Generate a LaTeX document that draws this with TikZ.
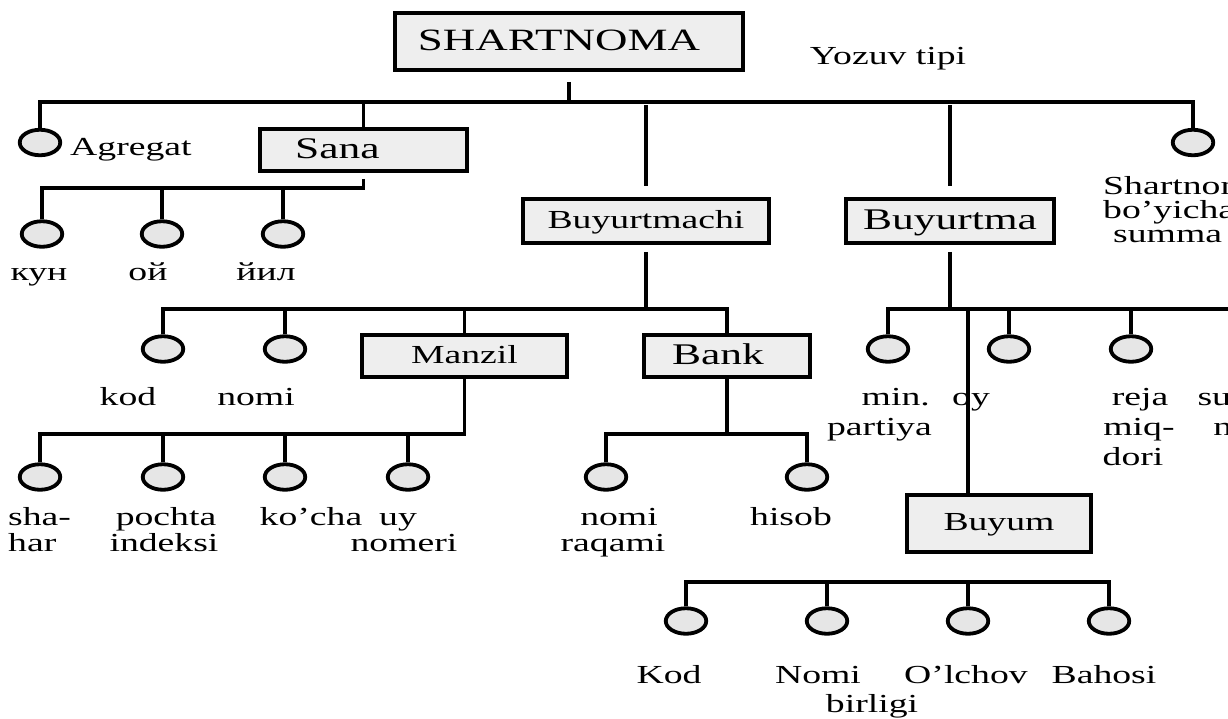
\documentclass[tikz,border=0pt]{standalone}
\usepackage{fontspec}
\setmainfont{Liberation Serif}[FakeStretch=1.45]
\usetikzlibrary{shapes.geometric}
\definecolor{boxgray}{HTML}{EEEEEE}
\definecolor{dotgray}{HTML}{E6E6E6}
\newcommand{\txtsize}[1]{\fontsize{#1pt}{#1pt}\selectfont}
\tikzset{
  wire/.style={line width=3.6pt},
  boxbase/.style={draw, line width=3.8pt, fill=boxgray, inner sep=0pt},
  box26/.style={boxbase, font=\txtsize{26}, text height=17.7pt, text depth=3.1pt},
  box30/.style={boxbase, font=\txtsize{30}, text height=20.4pt, text depth=3.6pt},
  box31/.style={boxbase, font=\txtsize{31}, text height=21.1pt, text depth=3.7pt},
  leaf/.style={ellipse, draw, line width=3.8pt, fill=dotgray,
    minimum width=40.5pt, minimum height=25.5pt, inner sep=0pt},
  lbl/.style={font=\txtsize{26}, inner sep=0pt, anchor=base},
  lblw/.style={lbl, anchor=base west},
  lble/.style={lbl, anchor=base east},
}
\begin{document}
\begin{tikzpicture}[x=1pt, y=-1pt]
\useasboundingbox (0,0) rectangle (1228,718);
\fill[white] (0,0) rectangle (1228,718);
\clip (0,0) rectangle (1228,718);

% ---- boxes (entities) ----
\node[box31, minimum width=348pt, minimum height=57pt] (root) at (569,41.5) {SHARTNOMA\hspace*{20pt}};
\node[box30, minimum width=207pt, minimum height=42pt] (sana) at (363.5,150) {Sana\hspace*{52pt}};
\node[box26, minimum width=246pt, minimum height=44pt] (buyer) at (646,221) {Buyurtmachi};
\node[box30, minimum width=208pt, minimum height=44pt] (order) at (950,221) {Buyurtma};
\node[box26, minimum width=205pt, minimum height=42pt] (manzil) at (464.5,356) {Manzil};
\node[box30, minimum width=166pt, minimum height=42pt] (bank) at (727,356) {Bank\hspace*{18pt}};
\node[box26, minimum width=184pt, minimum height=57pt] (buyum) at (999,523.5) {Buyum};

\node[lbl] (ytipi) at (888,64) {Yozuv tipi};

% ---- attribute circles ----
\node[leaf] (agregat) at (40,142.5) {};
\node[leaf] (shsum) at (1193,142.5) {};
\node[leaf] (kun) at (42,234) {};
\node[leaf] (oy) at (162,234) {};
\node[leaf] (yil) at (283,234) {};
\node[leaf] (kod) at (163,349) {};
\node[leaf] (nomi) at (285,349) {};
\node[leaf] (shahar) at (40,477) {};
\node[leaf] (pochta) at (163,477) {};
\node[leaf] (kocha) at (285,477) {};
\node[leaf] (uy) at (408,477) {};
\node[leaf] (bnomi) at (606,477) {};
\node[leaf] (hisob) at (807,477) {};
\node[leaf] (minp) at (888,349) {};
\node[leaf] (oyc) at (1009,349) {};
\node[leaf] (reja) at (1131,349) {};
\node[leaf] (summ) at (1252,349) {};
\node[leaf] (kodi) at (686,621) {};
\node[leaf] (nomi2) at (827,621) {};
\node[leaf] (olchov) at (968,621) {};
\node[leaf] (bahosi) at (1109,621) {};

% ---- attribute labels ----
\node[lblw] (l-agregat) at (70,155) {Agregat};
\node[lblw] (l-sh1) at (1103,194) {Shartnoma};
\node[lblw] (l-sh2) at (1103,218) {bo’yicha};
\node[lblw] (l-sh3) at (1113,242) {summa};
\node[lbl] (l-kun) at (39,280) {кун};
\node[lbl] (l-oy) at (148,280) {ой};
\node[lbl] (l-yil) at (266,280) {йил};
\node[lbl] (l-kod) at (128,405) {kod};
\node[lbl] (l-nomi) at (256,405) {nomi};
\node[lblw] (l-sha1) at (8,525) {sha-};
\node[lblw] (l-sha2) at (8,551) {har};
\node[lbl] (l-po1) at (166,525) {pochta};
\node[lbl] (l-po2) at (164,551) {indeksi};
\node[lbl] (l-kocha) at (311,525) {ko’cha};
\node[lbl] (l-uy1) at (398,525) {uy};
\node[lbl] (l-uy2) at (404,551) {nomeri};
\node[lbl] (l-bn1) at (619,525) {nomi};
\node[lbl] (l-bn2) at (613,551) {raqami};
\node[lbl] (l-hisob) at (791,525) {hisob};
\node[lble] (l-min1) at (930,405) {min.};
\node[lble] (l-min2) at (932,435) {partiya};
\node[lbl] (l-oyc) at (971,405) {oy};
\node[lbl] (l-reja1) at (1140,405) {reja};
\node[lbl] (l-reja2) at (1139,435) {miq-};
\node[lbl] (l-reja3) at (1133,465) {dori};
\node[lbl] (l-sum1) at (1252,405) {summa};
\node[lbl] (l-sum2) at (1252,435) {narxi};
\node[lbl] (l-kodi) at (669,683) {Kod};
\node[lbl] (l-nomi2) at (818,683) {Nomi};
\node[lbl] (l-birl) at (872,712) {birligi};
\node[lbl] (l-olchov) at (966,683) {O’lchov};
\node[lbl] (l-bahosi) at (1104,683) {Bahosi};

% ---- bus lines ----
\coordinate (mb0) at (0,102);
\coordinate (sb) at (0,188);
\coordinate (bb) at (0,309);
\coordinate (mzb) at (0,434);
\coordinate (yb) at (0,582);
\coordinate (bt) at (968,309);

% top level
\draw[wire, shorten <=10pt] (root.south) -- (root.south |- mb0);
\draw[wire] (agregat.north) -- (agregat.north |- mb0) -- (shsum.north |- mb0) -- (shsum.north);
\draw[wire] (sana.north |- mb0) -- (sana.north);
\draw[wire, shorten <=3pt, shorten >=11pt] (buyer.north |- mb0) -- (buyer.north);
\draw[wire, shorten <=3pt, shorten >=11pt] (order.north |- mb0) -- (order.north);

% Sana
\draw[wire, shorten <=6pt] (sana.south) -- (sana.south |- sb) -- (kun.north |- sb) -- (kun.north);
\draw[wire] (oy.north |- sb) -- (oy.north);
\draw[wire] (yil.north |- sb) -- (yil.north);

% Buyurtmachi
\draw[wire, shorten <=7pt] (buyer.south) -- (buyer.south |- bb);
\draw[wire] (kod.north) -- (kod.north |- bb) -- (bank.north |- bb) -- (bank.north);
\draw[wire] (nomi.north |- bb) -- (nomi.north);
\draw[wire] (manzil.north |- bb) -- (manzil.north);

% Manzil
\draw[wire] (manzil.south) -- (manzil.south |- mzb) -- (shahar.north |- mzb) -- (shahar.north);
\draw[wire] (pochta.north |- mzb) -- (pochta.north);
\draw[wire] (kocha.north |- mzb) -- (kocha.north);
\draw[wire] (uy.north |- mzb) -- (uy.north);

% Bank
\draw[wire] (bank.south) -- (bank.south |- mzb);
\draw[wire] (bnomi.north) -- (bnomi.north |- mzb) -- (hisob.north |- mzb) -- (hisob.north);

% Buyurtma
\draw[wire, shorten <=7pt] (order.south) -- (order.south |- bb);
\draw[wire] (minp.north) -- (minp.north |- bb) -- (summ.north |- bb) -- (summ.north);
\draw[wire] (oyc.north |- bb) -- (oyc.north);
\draw[wire] (reja.north |- bb) -- (reja.north);
\draw[wire] (bt) -- (bt |- buyum.north);

% Buyum
\draw[wire] (kodi.north) -- (kodi.north |- yb) -- (bahosi.north |- yb) -- (bahosi.north);
\draw[wire] (nomi2.north |- yb) -- (nomi2.north);
\draw[wire] (olchov.north |- yb) -- (olchov.north);
\end{tikzpicture}
\end{document}
